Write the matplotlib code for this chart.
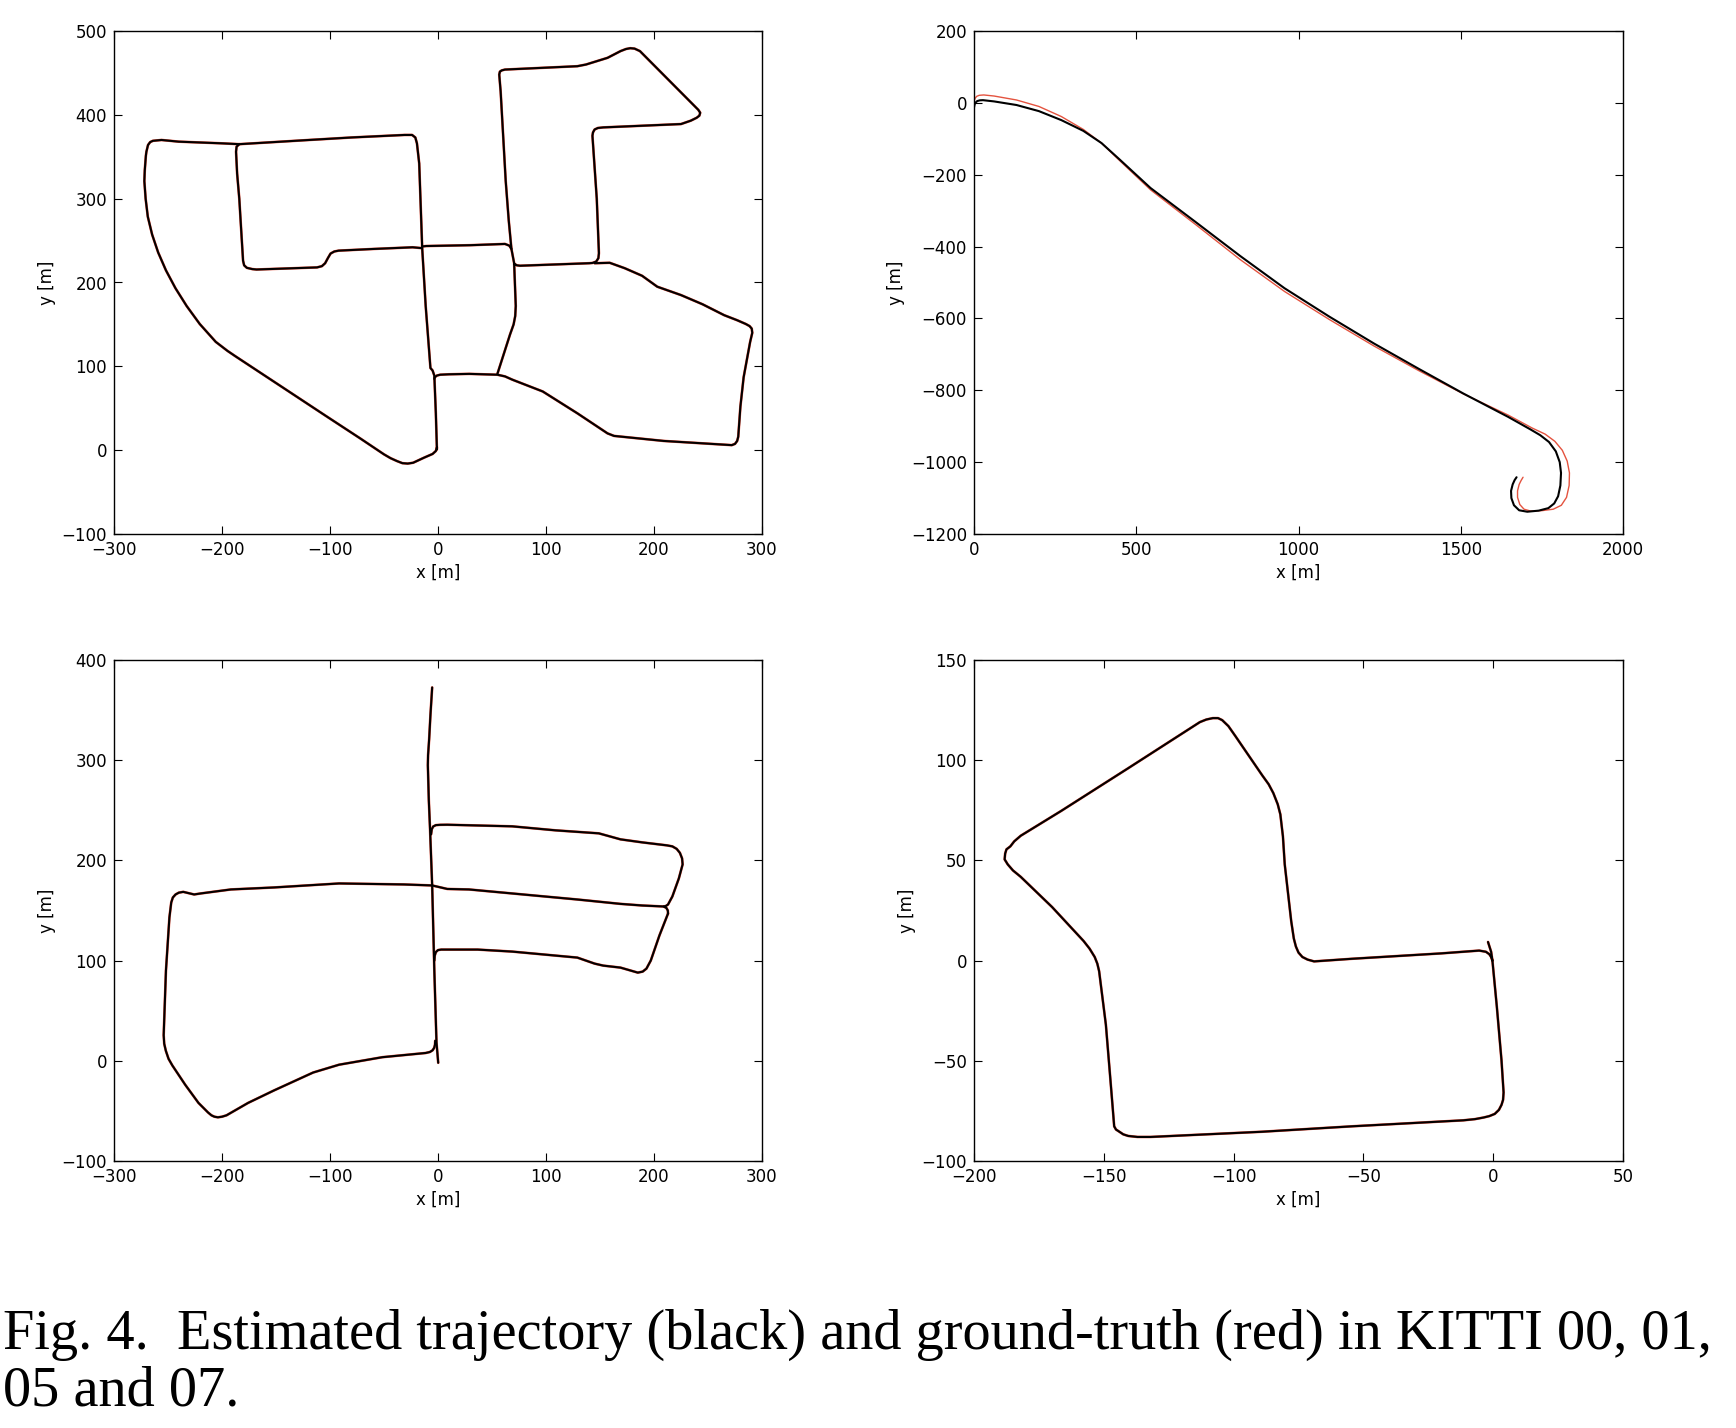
import numpy as np
import matplotlib
matplotlib.use("Agg")
import matplotlib.pyplot as plt

# ---------------- KITTI 00 (estimated trajectory, traced road segments, metres)
k00_outer = [(-1, 1), (-2, 44), (-3.4, 89), (-5, 95), (-7, 98), (-11.4, 172), (-14.6, 240),
             (-17.4, 342), (-19.5, 366), (-21, 373), (-24, 376), (-31, 376), (-80, 373),
             (-119.6, 370), (-184, 365), (-200, 366), (-240, 368), (-256, 370), (-264, 369),
             (-266.5, 367.5), (-268.5, 364), (-270, 356), (-270.5, 351), (-271.5, 334), (-271.9, 321),
             (-270.7, 299.8), (-268.7, 278.5), (-264.7, 257.2), (-259.1, 235.8), (-251.9, 214.5),
             (-243.1, 193.2), (-232.7, 171.9), (-220.6, 150.5), (-205.8, 129.2), (-195, 118.5),
             (-187.8, 112.2), (-144, 75), (-104, 41), (-72, 14), (-50, -5), (-44, -9.5), (-38, -13),
             (-33, -15.5), (-28, -16), (-23, -15), (-13, -9), (-5, -4.5), (-2, -1), (-1, 3)]
k00_inner_left = [(-184, 365), (-186.5, 362), (-187, 356), (-186, 330), (-184, 300), (-180.5, 226),
                  (-179.5, 220.5), (-177, 217.5), (-172, 216), (-168, 215.5), (-112, 218), (-107.5, 219.5),
                  (-104.5, 223), (-102, 229), (-99.5, 234.5), (-96, 237), (-92, 238), (-60, 240),
                  (-23.5, 242), (-15, 241)]
k00_center = [(-14.6, 243), (-11, 243.5), (30, 244.5), (62, 246), (66, 244), (68, 240)]
k00_north = [(55, 91), (66.7, 138), (70, 150), (71.5, 160), (72, 172), (70.5, 223), (68, 240),
             (65.5, 274), (62.7, 321), (58, 428), (56.7, 448), (57.3, 451.5), (59, 453), (62, 454),
             (129, 458), (137, 460), (157, 468), (169, 476), (174, 478.5), (178, 479.5), (182, 479),
             (187, 476), (241, 406), (242.8, 402.5), (242, 399), (239.5, 396.5), (234, 393), (225, 389),
             (153, 385), (148, 384.3), (145, 382.5), (143.5, 379), (143, 375), (147, 300), (149, 235),
             (148.5, 229), (146.5, 225), (143, 223.3), (140, 223), (76, 220), (73, 220.5), (71, 222)]
k00_east = [(145, 223), (159, 223.5), (173, 217), (189, 208), (203, 195), (225, 185), (245, 174),
            (265, 161), (277, 155), (285, 150.5), (288.5, 148), (290.5, 145), (291, 140), (289, 129),
            (283, 87), (280, 52), (278, 16), (277, 11), (275, 7.5), (272, 6), (209, 11), (163, 17),
            (157, 20), (129, 44), (97, 70), (85, 76), (69, 84), (62, 88), (55, 90), (29, 91),
            (10, 90.5), (2, 90), (-1, 89), (-3, 87), (-3.4, 85)]
k00_est = [k00_outer, k00_inner_left, k00_center, k00_north, k00_east]
k00_gt = k00_est  # ground truth coincides with the estimate at this scale

# ---------------- KITTI 01
k01_est = [(0, -13), (2, -4), (5, 1), (10, 5), (18, 7), (27.5, 7.5), (62, 4), (131, -6), (200, -23),
           (269, -48), (337, -78), (393, -112), (448, -157), (544, -237), (682, -331), (820, -426),
           (957, -516), (1095, -595), (1233, -670), (1370, -740), (1508, -809), (1646, -874),
           (1715, -909), (1745, -925), (1772, -944), (1793, -970), (1805, -1000), (1809, -1030),
           (1807, -1065), (1800, -1095), (1788, -1115), (1770, -1128), (1740, -1135), (1705, -1138),
           (1680, -1134), (1664, -1120), (1656, -1100), (1655, -1080), (1660, -1062), (1666, -1050),
           (1672, -1042)]
k01_gt = [(0, 3), (3, 12), (8, 18), (16, 21), (30, 22), (62, 19), (131, 8), (200, -10), (269, -38),
          (337, -74), (393, -112), (448, -160), (544, -242), (682, -338), (820, -436), (957, -525),
          (1095, -603), (1233, -677), (1370, -745), (1508, -810), (1646, -869), (1720, -905),
          (1760, -922), (1790, -942), (1813, -967), (1828, -997), (1835, -1030), (1834, -1065),
          (1826, -1098), (1810, -1120), (1785, -1131), (1750, -1135), (1715, -1136), (1695, -1131),
          (1682, -1118), (1675, -1098), (1675, -1080), (1680, -1062), (1686, -1051), (1692, -1042)]

# ---------------- KITTI 05
k05_main = [(-5.4, 372.6), (-7, 345), (-8.2, 321), (-9.2, 305), (-9.4, 295), (-8.5, 260), (-7.4, 232),
            (-5.4, 175), (-3.4, 90), (-1.4, 18.5), (0.2, -2)]
k05_upper = [(-6.4, 226), (-5.8, 231), (-4.5, 233.8), (-2, 235.2), (2, 235.5), (8.6, 235.6), (68.7, 234),
             (108.8, 230), (148.9, 227), (169, 221), (189, 218), (212, 215), (217, 214), (221, 211.5),
             (224, 207.5), (226, 202), (226.5, 196), (223, 182), (217, 164), (213, 156), (211, 154.5),
             (209, 154)]
k05_middle = [(-5.4, 175), (-3.4, 174.5), (8.6, 171.5), (28.7, 171), (88.8, 165), (128.9, 161),
              (169, 156.6), (189, 155), (209, 154), (211.5, 152.5), (212.8, 150), (213, 147)]
k05_lower = [(213, 147), (205, 125), (197, 100), (193, 92), (189.5, 89), (185, 88), (169, 93),
             (153, 95), (145, 97), (129, 103), (88.8, 107), (68.7, 109), (36.7, 111), (3, 111),
             (0, 110.5), (-2, 108.5), (-3, 105), (-3.4, 100)]
k05_left = [(-5.4, 175), (-31.5, 176), (-91.6, 177), (-151.7, 173), (-191.8, 171), (-219.8, 167),
            (-225.8, 166), (-235.9, 168.6), (-240, 167.8), (-243, 166), (-245.5, 163), (-247, 158),
            (-248.7, 143), (-251.9, 90), (-254, 25.6), (-253.5, 17), (-252, 10), (-249.5, 2),
            (-246, -4.6), (-234, -24), (-221.8, -42), (-213, -51.5), (-209.8, -54.4), (-207, -55.8),
            (-203.8, -56.4), (-200, -55.8), (-195.8, -54.4), (-175.8, -42), (-151.7, -29.5),
            (-115.6, -11.7), (-91.6, -3.9), (-51.5, 3.6), (-11.4, 7.8), (-7.5, 8.8), (-5, 10.5),
            (-3.5, 13), (-2.8, 16), (-2.6, 20)]
k05_est = [k05_main, k05_upper, k05_middle, k05_lower, k05_left]
k05_gt = k05_est

# ---------------- KITTI 07
k07_est = [(-2, 9.3), (-0.8, 4.4), (-0.3, 0), (1.4, -23), (3.2, -49.8), (4, -65.8), (3.8, -69.5),
           (3.2, -72), (2.2, -74.5), (0.6, -76.5), (-1.5, -77.6), (-3.7, -78.3), (-7, -79.1),
           (-11.5, -79.7), (-54.5, -82.7), (-89, -85.4), (-132, -88), (-137, -88), (-140.6, -87.5),
           (-142.5, -86.7), (-144, -85.4), (-145.3, -84.3), (-146, -82.7), (-146.6, -73),
           (-147.5, -58.7), (-149.2, -32), (-151.8, -5.3), (-152.5, -1.5), (-153.5, 1.8),
           (-155.5, 6), (-157.8, 9.8), (-169.9, 26.7), (-182, 41.8), (-185, 45), (-187, 48),
           (-188.2, 50.5), (-188, 53.4), (-187.5, 55.5), (-186, 57), (-184.5, 59.5), (-182, 62.3),
           (-166.4, 74.7), (-140.6, 96), (-113, 119), (-110.5, 120.3), (-108, 121), (-106, 121),
           (-104.4, 120), (-102, 117), (-99.3, 112), (-89, 92.5), (-86.5, 88), (-84.7, 83.6),
           (-83, 78), (-82, 73), (-81, 62), (-80.3, 48), (-77.8, 19.6), (-76.8, 11), (-76, 7),
           (-75, 4), (-73.5, 1.8), (-71.5, 0.5), (-69, -0.4), (-54.5, 0.9), (-20, 3.6), (-5.4, 5),
           (-2.8, 4.4), (-1.5, 3.2), (-0.8, 1.8), (-0.3, 0)]
k07_gt = k07_est

panels = [
    dict(est=k00_est, gt=k00_gt, gtw=1.9, xlim=(-300, 300), ylim=(-100, 500),
         xt=[-300, -200, -100, 0, 100, 200, 300], yt=[-100, 0, 100, 200, 300, 400, 500]),
    dict(est=[k01_est], gt=[k01_gt], gtw=1.0, xlim=(0, 2000), ylim=(-1200, 200),
         xt=[0, 500, 1000, 1500, 2000], yt=[-1200, -1000, -800, -600, -400, -200, 0, 200]),
    dict(est=k05_est, gt=k05_gt, gtw=1.9, xlim=(-300, 300), ylim=(-100, 400),
         xt=[-300, -200, -100, 0, 100, 200, 300], yt=[-100, 0, 100, 200, 300, 400]),
    dict(est=[k07_est], gt=[k07_gt], gtw=1.9, xlim=(-200, 50), ylim=(-100, 150),
         xt=[-200, -150, -100, -50, 0, 50], yt=[-100, -50, 0, 50, 100, 150]),
]

W, H = 1736, 1428
fig = plt.figure(figsize=(W / 100, H / 100), dpi=100)
fig.patch.set_facecolor("white")

boxes = [(114, 31, 762, 534), (974, 31, 1623, 534), (114, 660, 762, 1161), (974, 660, 1623, 1161)]
RED = "#e4533f"

for (l, t, r, b), p in zip(boxes, panels):
    ax = fig.add_axes([l / W, 1 - b / H, (r - l) / W, (b - t) / H])
    for seg in p["gt"]:
        a = np.array(seg)
        ax.plot(a[:, 0], a[:, 1], color=RED, lw=p["gtw"], solid_capstyle="round",
                solid_joinstyle="round")
    for seg in p["est"]:
        a = np.array(seg)
        ax.plot(a[:, 0], a[:, 1], color="black", lw=1.5, solid_capstyle="round",
                solid_joinstyle="round")
    ax.set_xlim(*p["xlim"])
    ax.set_ylim(*p["ylim"])
    ax.set_xticks(p["xt"])
    ax.set_yticks(p["yt"])
    ax.tick_params(direction="in", top=True, right=True, length=6, width=0.8,
                   labelsize=12, pad=5)
    ax.set_xlabel("x [m]", fontsize=12, labelpad=3.5)
    ax.set_ylabel("y [m]", fontsize=12, labelpad=4)
    for s in ax.spines.values():
        s.set_linewidth(1.0)

line1 = "Fig. 4.  Estimated trajectory (black) and ground-truth (red) in KITTI 00, 01,"
line2 = "05 and 07."
t1 = fig.text(0.0015, 1 - 1349 / H, line1, fontsize=44, family="Liberation Serif", va="baseline")
t2 = fig.text(0.0015, 1 - 1406 / H, line2, fontsize=44, family="Liberation Serif", va="baseline")
fig.canvas.draw()
w = t1.get_window_extent().width
fs = 44 * 1711 / w
t1.set_fontsize(fs)
t2.set_fontsize(fs)

fig.savefig("out.png", dpi=100, facecolor="white")
